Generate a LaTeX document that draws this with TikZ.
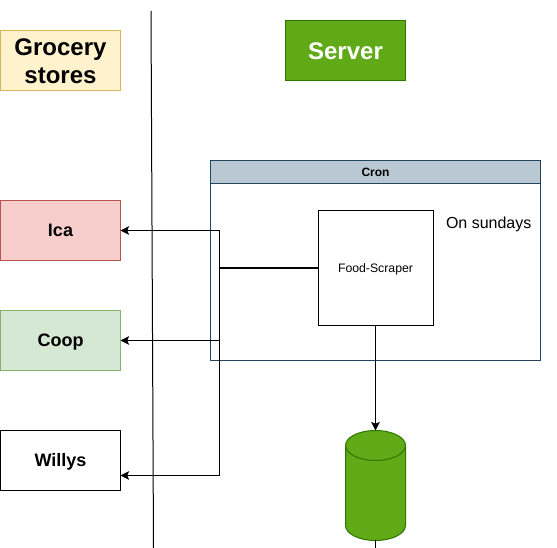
\documentclass[tikz,border=0pt]{standalone}
\usepackage{fontspec}
\setmainfont{Liberation Sans}
\usetikzlibrary{arrows.meta}
\definecolor{yelF}{HTML}{FFF2CC}\definecolor{yelD}{HTML}{D6B656}
\definecolor{grnF}{HTML}{60A917}\definecolor{grnD}{HTML}{2D7600}
\definecolor{redF}{HTML}{F8CECC}\definecolor{redD}{HTML}{B85450}
\definecolor{gr2F}{HTML}{D5E8D4}\definecolor{gr2D}{HTML}{82B366}
\definecolor{blueF}{HTML}{BAC8D3}\definecolor{blueD}{HTML}{23445D}
\tikzset{
 x=0.75pt,y=-0.75pt,
 every node/.style={outer sep=0pt},
 box/.style={draw,line width=0.75pt,minimum width=90pt,minimum height=45pt,inner sep=0pt,anchor=north west,align=center,font=\fontsize{13.5pt}{16pt}\selectfont\bfseries},
 single/.style={text height=11.2pt,text depth=2.9pt},
 conn/.style={draw=black,line width=0.75pt},
 arr/.style={conn,-{Stealth[length=6.5pt,width=6.5pt,inset=1.5pt]}},
}
\begin{document}
\begin{tikzpicture}
\useasboundingbox (0,0) rectangle (557,548);
\draw[line width=0.75pt] (151,11) to (153.5,548);
\node[box,draw=yelD,fill=yelF,font=\fontsize{18pt}{21pt}\selectfont\bfseries] (grocery) at (0.5,30.5) {\rule{0pt}{13.8pt}Grocery\\stores};
\node[box,draw=grnD,fill=grnF,text=white,font=\fontsize{18pt}{21pt}\selectfont\bfseries,text height=13.3pt,text depth=0pt] (server) at (285.5,20.5) {Server};
\node[box,single,draw=redD,fill=redF] (ica) at (0.5,200.5) {Ica};
\node[box,single,draw=gr2D,fill=gr2F] (coop) at (0.5,310.5) {Coop};
\node[box,single,draw=black,fill=white] (willys) at (0.5,430.5) {Willys};
% Cron container
\node[draw=blueD,fill=blueF,line width=0.75pt,minimum width=247.5pt,minimum height=17.25pt,inner sep=0pt,anchor=north west,font=\fontsize{9pt}{11pt}\selectfont\bfseries,text height=8.5pt,text depth=1pt] (cronhead) at (210.5,160.5) {Cron};
\node[draw=blueD,line width=0.75pt,minimum width=247.5pt,minimum height=132.75pt,inner sep=0pt,anchor=north west] (cron) at (210.5,183.5) {};
\node[font=\fontsize{12pt}{14pt}\selectfont,anchor=west,inner sep=0pt] (sun) at (446,224) {On sundays};
\node[draw=black,fill=white,line width=0.75pt,minimum width=86.25pt,minimum height=86.25pt,inner sep=0pt,anchor=north west,font=\fontsize{9.2pt}{11pt}\selectfont,text height=8.2pt,text depth=1.9pt] (scraper) at (318,210.5) {Food-Scraper};
% Database
\coordinate (dbtop) at (375.5,430.5);
\coordinate (dbbot) at (375.5,540.5);
\draw[draw=grnD,fill=grnF,line width=0.75pt] (345.5,445.5) arc[start angle=180,end angle=0,x radius=30,y radius=-15] -- (405.5,525.5) arc[start angle=0,end angle=-180,x radius=30,y radius=-15] -- cycle;
\draw[draw=grnD,line width=0.75pt] (345.5,445.5) arc[start angle=180,end angle=360,x radius=30,y radius=-15];
% Connectors
\coordinate (jn) at (219,268);
\draw[conn,line width=1.1pt] (scraper.west |- jn) -- (jn);
\draw[arr] (jn) -- (219,230.5) -- (ica.east);
\draw[arr] (jn) -- (219,340.5) -- (coop.east);
\draw[arr] (jn) -- (219,475.5) -- (120.5,475.5);
\draw[arr] (scraper.south) -- (dbtop);
\draw[conn] (dbbot) -- (375.5,548);
\end{tikzpicture}
\end{document}
